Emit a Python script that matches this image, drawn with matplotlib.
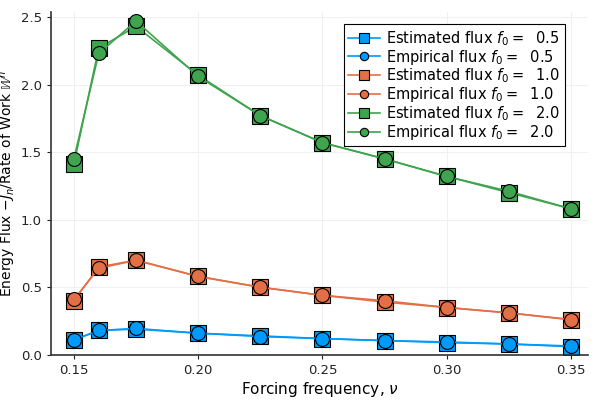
import numpy as np
import matplotlib.pyplot as plt

nu = [0.15, 0.16, 0.175, 0.2, 0.225, 0.25, 0.275, 0.3, 0.325, 0.35]

est_05 = [0.11, 0.18, 0.19, 0.16, 0.14, 0.12, 0.105, 0.09, 0.08, 0.06]
emp_05 = [0.11, 0.18, 0.195, 0.16, 0.135, 0.12, 0.105, 0.095, 0.08, 0.065]
est_10 = [0.40, 0.65, 0.70, 0.58, 0.50, 0.44, 0.39, 0.35, 0.31, 0.26]
emp_10 = [0.41, 0.64, 0.70, 0.58, 0.50, 0.44, 0.40, 0.35, 0.31, 0.26]
est_20 = [1.41, 2.27, 2.43, 2.07, 1.77, 1.57, 1.45, 1.32, 1.20, 1.08]
emp_20 = [1.45, 2.23, 2.47, 2.06, 1.77, 1.57, 1.45, 1.32, 1.21, 1.08]

f0 = ['0.5', '1.0', '2.0']
colores = ['#009AFA', '#E36F47', '#3EA44E']

fig, ax = plt.subplots(figsize=(6, 4), dpi=100)

for est, emp, f, c in zip([est_05, est_10, est_20], [emp_05, emp_10, emp_20], f0, colores):
    ax.plot(nu, est, '-s', color=c, lw=1.2, ms=11, mec='black', mew=0.8,
            label=r'Estimated flux $f_0 = $  ' + f)
    ax.plot(nu, emp, '-o', color=c, lw=1.2, ms=10, mec='black', mew=0.8,
            label=r'Empirical flux $f_0 = $  ' + f)

ax.set_xlim(0.1408, 0.3568)
ax.set_ylim(0, 2.537)
ax.set_xticks([0.15, 0.20, 0.25, 0.30, 0.35])
ax.set_xticklabels(['0.15', '0.20', '0.25', '0.30', '0.35'])
ax.set_yticks([0, 0.5, 1.0, 1.5, 2.0, 2.5])
ax.set_yticklabels(['0.0', '0.5', '1.0', '1.5', '2.0', '2.5'])
ax.grid(True, color='#f0f0f0', lw=0.8)
for s in ['top', 'right']:
    ax.spines[s].set_visible(False)
for s in ['left', 'bottom']:
    ax.spines[s].set_linewidth(1.2)
    ax.spines[s].set_color('#333333')
ax.tick_params(length=3, labelsize=9.5, colors='#222222')

ax.set_xlabel(r'Forcing frequency, $\nu$', fontsize=11, labelpad=2)
ax.set_ylabel(r'Energy Flux $-J_n$/Rate of Work $\mathbb{W}^n$', fontsize=10, labelpad=2)

leg = ax.legend(loc='upper right', fontsize=10.5, fancybox=False, edgecolor='black',
                framealpha=1, borderpad=0.3, labelspacing=0.0, handlelength=2.2,
                handletextpad=0.4, markerscale=0.6, bbox_to_anchor=(0.97, 0.985))
leg.get_frame().set_linewidth(0.8)

plt.subplots_adjust(left=0.085, right=0.98, top=0.97, bottom=0.113)
plt.savefig('out.png')
